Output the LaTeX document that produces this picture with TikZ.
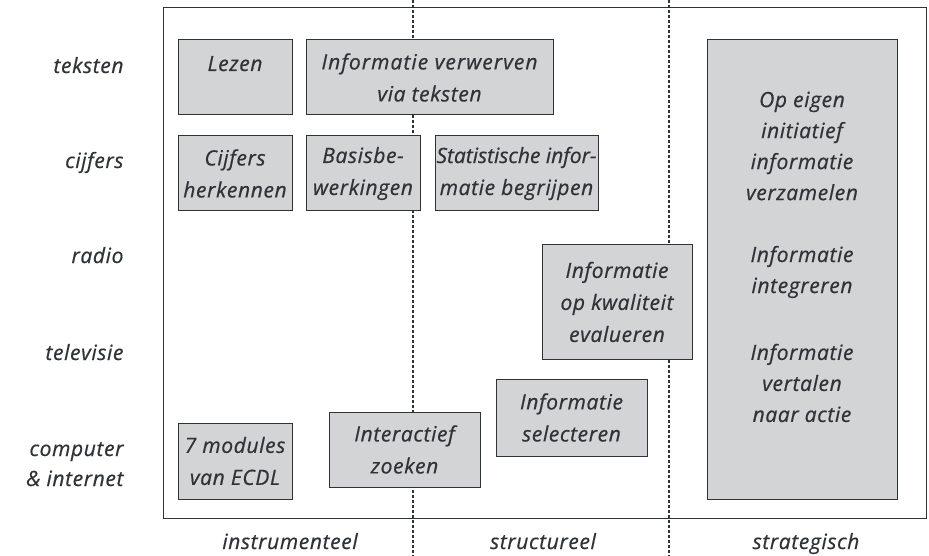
\documentclass[tikz,border=0pt]{standalone}
\usepackage{fontspec}
\setmainfont{Open Sans}[LetterSpace=3, FakeBold=0.6]
\definecolor{boxfill}{HTML}{D3D4D6}
\definecolor{ink}{HTML}{2E3338}
\begin{document}
\begin{tikzpicture}[x=1pt,y=-1pt,
  lab/.style={font=\fontsize{21}{32}\selectfont\itshape, text=ink},
  cell/.style={draw=ink, line width=1pt, fill=boxfill, inner sep=0pt, align=center,
    font=\fontsize{21}{32}\selectfont\itshape, text=ink},
  divider/.style={draw=ink, line width=1.6pt, dash pattern=on 3pt off 2pt}]
\useasboundingbox (0,0) rectangle (929,556);
% frame
\draw[ink, line width=1pt] (163,8) rectangle (926,518);
% dividers
\coordinate (d1t) at (413,0); \coordinate (d1b) at (413,556);
\coordinate (d2t) at (669,0); \coordinate (d2b) at (669,556);
\draw[divider] (d1t) -- (d1b);
\draw[divider] (d2t) -- (d2b);
% row labels
\node[lab, anchor=base east] (r1) at (127,73) {teksten};
\node[lab, anchor=base east] (r2) at (127,168) {cijfers};
\node[lab, anchor=base east] (r3) at (127,263) {radio};
\node[lab, anchor=base east] (r4) at (127,360) {televisie};
\node[lab, anchor=base east] (r5a) at (127,456) {computer};
\node[lab, anchor=base east] (r5b) at (127,486) {\&~internet};
% column labels
\node[lab, anchor=base] (c1) at (290,549) {instrumenteel};
\node[lab, anchor=base] (c2) at (543,549) {structureel};
\node[lab, anchor=base] (c3) at (806,549) {strategisch};
% boxes
\node[cell, minimum width=114pt, minimum height=75pt] (lezen) at (235,77.5) {Lezen\\[-4pt]\mbox{}};
\node[cell, minimum width=247pt, minimum height=75pt] (verw) at (429.5,77.5) {\addfontfeatures{LetterSpace=5}Informatie verwerven\\via teksten};
\node[cell, minimum width=114pt, minimum height=75pt] (cijf) at (235,173.5) {Cijfers\\herkennen};
\node[cell, minimum width=114pt, minimum height=75pt] (basis) at (363,173.5) {Basisbe-\\werkingen};
\node[cell, minimum width=163pt, minimum height=75pt] (stat) at (516.5,173.5) {\addfontfeatures{LetterSpace=0}Statistische infor-\\matie begrijpen};
\node[cell, minimum width=150pt, minimum height=114pt] (eval) at (617,302) {Informatie\\op kwaliteit\\evalueren};
\node[cell, minimum width=151pt, minimum height=77pt] (sel) at (571.5,417.5) {Informatie\\selecteren};
\node[cell, minimum width=114pt, minimum height=76pt] (ecdl) at (235,461) {7 modules\\van ECDL};
\node[cell, minimum width=151pt, minimum height=75pt] (zoek) at (404.5,449.5) {Interactief\\zoeken};
\node[cell, minimum width=190pt, minimum height=459pt] (strat) at (802,269.5) {};
\node[lab, align=center, font=\fontsize{21}{31}\selectfont\itshape] (s1) at (802,146) {Op eigen\\initiatief\\informatie\\verzamelen};
\node[lab, align=center, font=\fontsize{21}{31}\selectfont\itshape] (s2) at (802,272) {Informatie\\integreren};
\node[lab, align=center, font=\fontsize{21}{31}\selectfont\itshape] (s3) at (802,383) {Informatie\\vertalen\\naar actie};
\end{tikzpicture}
\end{document}
